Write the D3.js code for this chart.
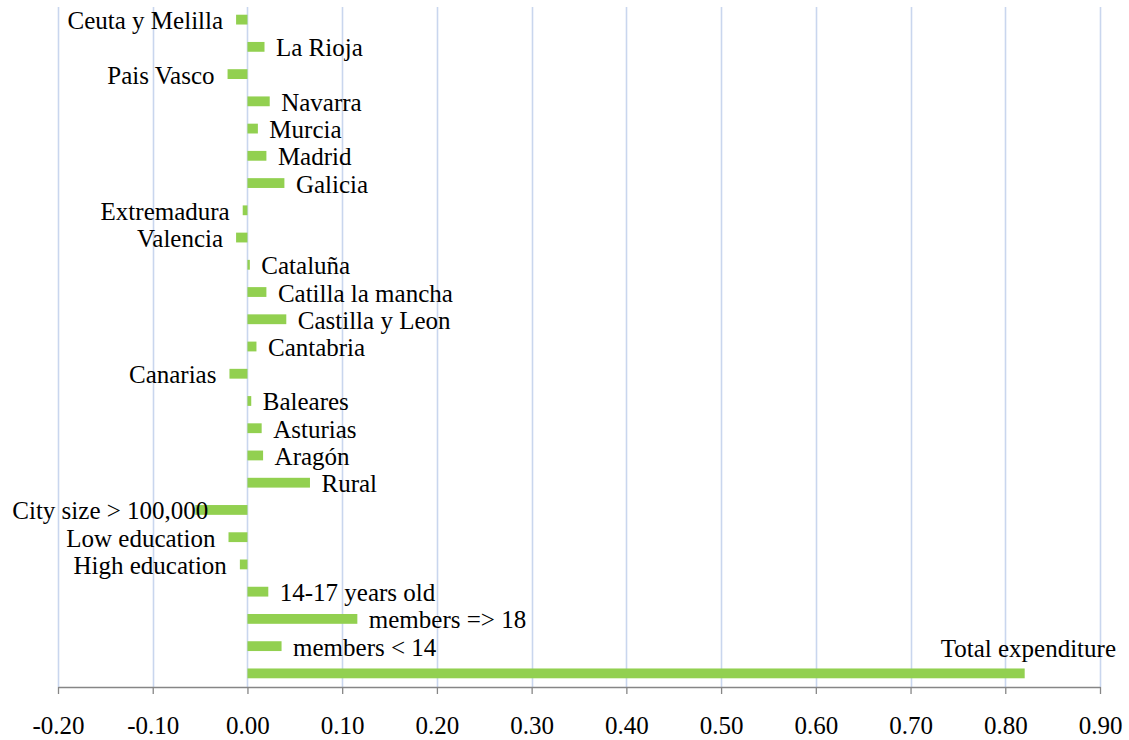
<!DOCTYPE html>
<html>
<head>
<meta charset="utf-8">
<script src="https://cdn.jsdelivr.net/npm/d3@7"></script>
<style>
  html, body { margin: 0; padding: 0; background: #ffffff; }
  svg { display: block; }
  text { font-family: "Liberation Serif", "Times New Roman", serif; fill: #000; }
</style>
</head>
<body>
<svg id="chart" width="1129" height="740"></svg>
<script>
const categories = [
  "Ceuta y Melilla", "La Rioja", "Pais Vasco", "Navarra", "Murcia", "Madrid",
  "Galicia", "Extremadura", "Valencia", "Cataluña", "Catilla la mancha",
  "Castilla y Leon", "Cantabria", "Canarias", "Baleares", "Asturias", "Aragón",
  "Rural", "City size > 100,000", "Low education", "High education",
  "14-17 years old", "members => 18", "members < 14", "Total expenditure"
];
const values = [
  -0.012, 0.018, -0.021, 0.0235, 0.011, 0.020,
  0.039, -0.005, -0.012, 0.0025, 0.020,
  0.041, 0.0095, -0.019, 0.004, 0.015, 0.0165,
  0.066, -0.055, -0.020, -0.008,
  0.022, 0.116, 0.036, 0.8205
];
const tickValues = [-0.2, -0.1, 0, 0.1, 0.2, 0.3, 0.4, 0.5, 0.6, 0.7, 0.8, 0.9];
const tickLabels = ["-0.20", "-0.10", "0.00", "0.10", "0.20", "0.30", "0.40", "0.50", "0.60", "0.70", "0.80", "0.90"];

const data = categories.map((c, i) => ({ cat: c, v: values[i] }));

const svg = d3.select("#chart");
const x = d3.scaleLinear().domain([-0.2, 0.9]).range([58, 1100]);
const y = d3.scaleBand().domain(categories).range([6, 687]).padding(0);
const bw = y.bandwidth();
const barH = bw * 0.36;

// gridlines
svg.append("g").selectAll("line").data(tickValues).join("line")
  .attr("x1", d => Math.round(x(d)) + 0.5).attr("x2", d => Math.round(x(d)) + 0.5)
  .attr("y1", 7).attr("y2", 687)
  .attr("stroke", "#c9d6ee").attr("stroke-width", 1.6);

// bars
svg.append("g").selectAll("rect").data(data).join("rect")
  .attr("x", d => x(Math.min(0, d.v)))
  .attr("width", d => Math.abs(x(d.v) - x(0)))
  .attr("y", d => y(d.cat) + (bw - barH) / 2)
  .attr("height", barH)
  .attr("fill", "#92d050");

// axis
const axis = d3.axisBottom(x).tickValues(tickValues)
  .tickFormat((d, i) => tickLabels[i]).tickSize(7).tickSizeOuter(0);
const gA = svg.append("g").attr("transform", "translate(0,687)").call(axis);
gA.select(".domain").attr("stroke", "#868686").attr("stroke-width", 1.3);
gA.selectAll(".tick line").attr("stroke", "#868686").attr("stroke-width", 1.3);
gA.selectAll(".tick text").attr("y", 47).attr("dy", 0)
  .style("font-family", '"Liberation Serif", "Times New Roman", serif')
  .style("font-size", "25px").attr("fill", "#000");

// labels
const labelG = svg.append("g");
data.forEach(d => {
  const cy = y(d.cat) + bw / 2;
  const t = labelG.append("text").text(d.cat).style("font-size", "25px");
  if (d.cat === "Total expenditure") {
    t.attr("x", x.range()[1] + 16).attr("y", cy - 16).attr("text-anchor", "end");
  } else if (d.cat === "City size > 100,000") {
    t.attr("x", x(d.v) + 13).attr("y", cy + 9.5).attr("text-anchor", "end");
  } else if (d.v >= 0) {
    t.attr("x", x(d.v) + 11.5).attr("y", cy + 9.5).attr("text-anchor", "start");
  } else {
    t.attr("x", x(d.v) - 13).attr("y", cy + 9.5).attr("text-anchor", "end");
  }
});
</script>
</body>
</html>
